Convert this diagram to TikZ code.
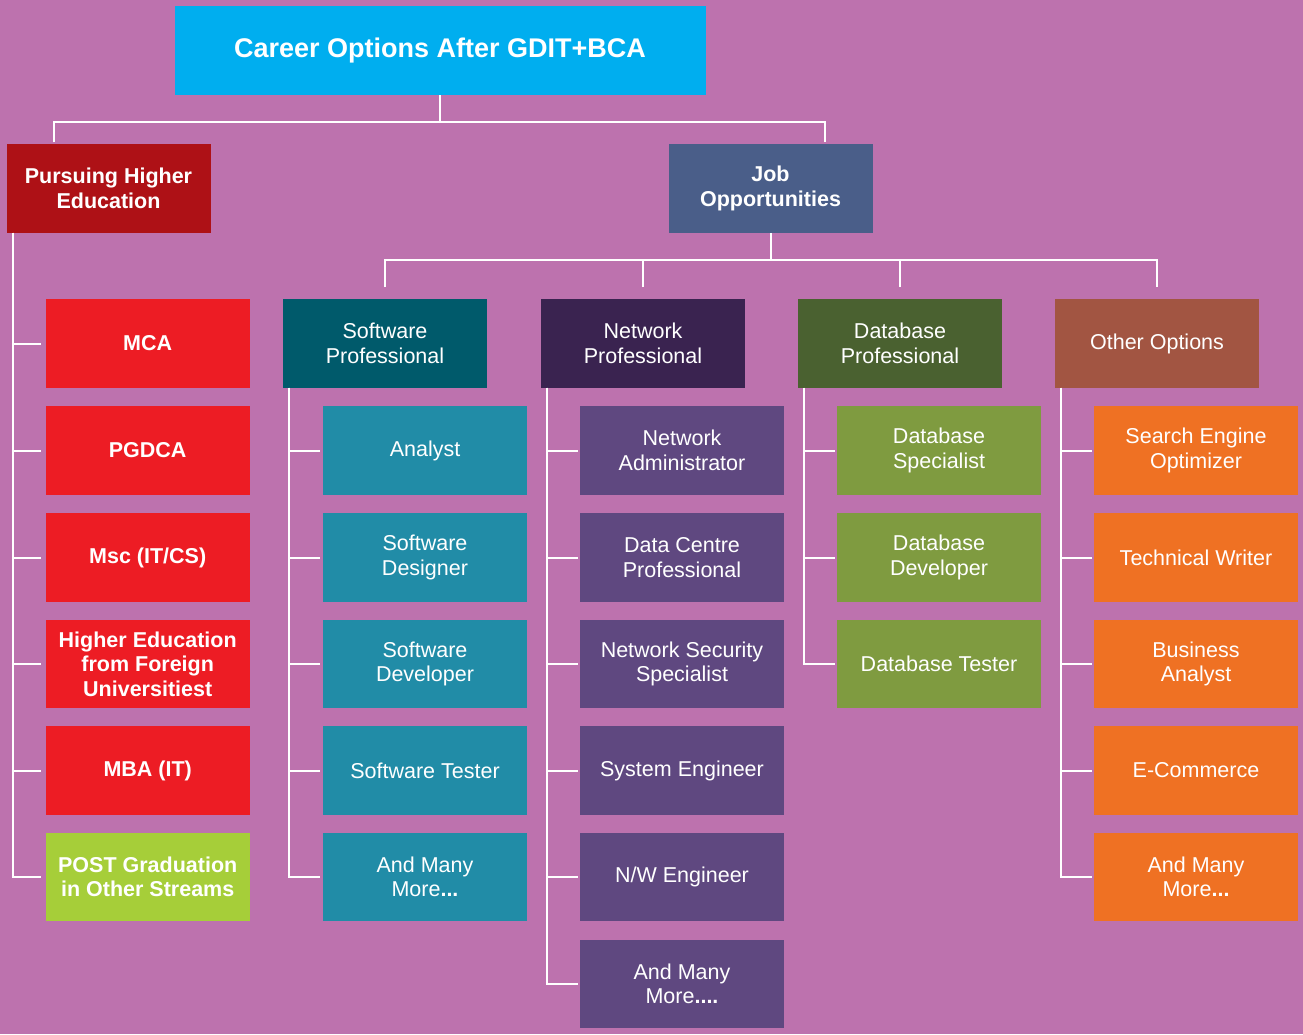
\documentclass[tikz,border=0pt]{standalone}
\usepackage{fontspec}
\setmainfont{Liberation Sans}
\usetikzlibrary{calc}
\definecolor{bgc}{HTML}{BD72AE}
\definecolor{topc}{HTML}{00AEEF}
\definecolor{pursuec}{HTML}{AE1116}
\definecolor{jobc}{HTML}{4A5E89}
\definecolor{redc}{HTML}{ED1C24}
\definecolor{limec}{HTML}{A6CE39}
\definecolor{spc}{HTML}{005A6B}
\definecolor{tealc}{HTML}{218CA7}
\definecolor{npc}{HTML}{3A2350}
\definecolor{nchc}{HTML}{5F4880}
\definecolor{dpc}{HTML}{4A6130}
\definecolor{dchc}{HTML}{7F9B40}
\definecolor{opc}{HTML}{A25542}
\definecolor{orangec}{HTML}{EF7123}
\begin{document}
\begin{tikzpicture}[x=1pt,y=-1pt,
  box/.style={minimum width=204pt, minimum height=88.5pt, inner sep=0pt, align=center,
    text=white, font=\fontsize{21.5pt}{24.5pt}\selectfont},
  bbox/.style={box, font=\fontsize{21.5pt}{24.5pt}\selectfont\bfseries},
  conn/.style={draw=white, line width=2pt}]
\fill[bgc] (0,0) rectangle (1303,1034);
\useasboundingbox (0,0) rectangle (1303,1034);

% top level
\node[bbox, fill=topc, minimum width=531pt, minimum height=89pt,
  font=\fontsize{27pt}{30pt}\selectfont\bfseries] (top) at (440,50.5) {Career Options After GDIT+BCA};
\node[bbox, fill=pursuec] (pursue) at (108.5,188.3) {Pursuing Higher\\Education};
\node[bbox, fill=jobc] (job) at (770.5,188.3) {Job\\Opportunities};

% level 2
\node[box, fill=spc] (sp) at (385,343.5) {Software\\Professional};
\node[box, fill=npc] (np) at (643,343.5) {Network\\Professional};
\node[box, fill=dpc] (dp) at (900,343.5) {Database\\Professional};
\node[box, fill=opc] (op) at (1157,343.5) {Other Options};

% education column
\node[bbox, fill=redc] (e1) at (147.7,343.5) {MCA};
\node[bbox, fill=redc] (e2) at (147.7,450.5) {PGDCA};
\node[bbox, fill=redc] (e3) at (147.7,557.5) {Msc (IT/CS)};
\node[bbox, fill=redc] (e4) at (147.7,664) {Higher Education\\from Foreign\\Universitiest};
\node[bbox, fill=redc] (e5) at (147.7,770.5) {MBA (IT)};
\node[bbox, fill=limec] (e6) at (147.7,877) {POST Graduation\\in Other Streams};

% software children
\node[box, fill=tealc] (s1) at (425,450.5) {Analyst};
\node[box, fill=tealc] (s2) at (425,557.5) {Software\\Designer};
\node[box, fill=tealc] (s3) at (425,664) {Software\\Developer};
\node[box, fill=tealc] (s4) at (425,770.5) {Software Tester};
\node[box, fill=tealc] (s5) at (425,877) {And Many\\More\textbf{...}};

% network children
\node[box, fill=nchc] (n1) at (682,450.5) {Network\\Administrator};
\node[box, fill=nchc] (n2) at (682,557.5) {Data Centre\\Professional};
\node[box, fill=nchc] (n3) at (682,664) {Network Security\\Specialist};
\node[box, fill=nchc] (n4) at (682,770.5) {System Engineer};
\node[box, fill=nchc] (n5) at (682,877) {N/W Engineer};
\node[box, fill=nchc] (n6) at (682,984) {And Many\\More\textbf{....}};

% database children
\node[box, fill=dchc] (d1) at (939,450.5) {Database\\Specialist};
\node[box, fill=dchc] (d2) at (939,557.5) {Database\\Developer};
\node[box, fill=dchc] (d3) at (939,664) {Database Tester};

% other children
\node[box, fill=orangec] (o1) at (1196,450.5) {Search Engine\\Optimizer};
\node[box, fill=orangec] (o2) at (1196,557.5) {Technical Writer};
\node[box, fill=orangec] (o3) at (1196,664) {Business\\Analyst};
\node[box, fill=orangec] (o4) at (1196,770.5) {E-Commerce};
\node[box, fill=orangec] (o5) at (1196,877) {And Many\\More\textbf{...}};

% connectors: top bracket
\coordinate (t1) at ($(top.south)+(0,26.5)$);
\draw[conn] (top.south) -- (t1);
\draw[conn] ($(pursue.north)+(-54.5,-1.5)$) |- (t1) -| ($(job.north)+(54.5,-1.5)$);

% job bracket
\coordinate (j1) at ($(job.south)+(0,27)$);
\draw[conn] (job.south) -- (j1);
\draw[conn] ($(sp.north)+(0,-12)$) |- (j1) -| ($(op.north)+(0,-12)$);
\draw[conn] ($(np.north)+(0,-12)$) -- (np.north |- j1);
\draw[conn] ($(dp.north)+(0,-12)$) -- (dp.north |- j1);

% child connectors
\foreach \c in {e1,e2,e3,e4,e5,e6}
  \draw[conn, shorten >=5pt] ($(pursue.south west)+(7,0)$) |- (\c.west);
\foreach \c in {s1,s2,s3,s4,s5}
  \draw[conn, shorten >=3pt] ($(sp.south west)+(6,0)$) |- (\c.west);
\foreach \c in {n1,n2,n3,n4,n5,n6}
  \draw[conn, shorten >=2pt] ($(np.south west)+(6,0)$) |- (\c.west);
\foreach \c in {d1,d2,d3}
  \draw[conn, shorten >=2pt] ($(dp.south west)+(6,0)$) |- (\c.west);
\foreach \c in {o1,o2,o3,o4,o5}
  \draw[conn, shorten >=2pt] ($(op.south west)+(6,0)$) |- (\c.west);
\end{tikzpicture}
\end{document}
